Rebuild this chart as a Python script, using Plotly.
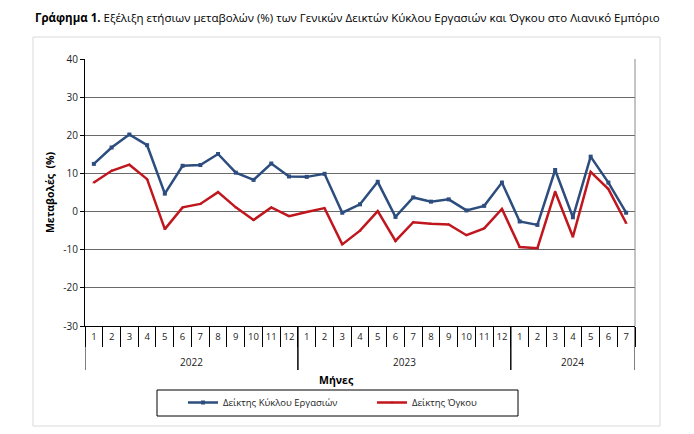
import plotly.graph_objects as go

years = ["2022"] * 12 + ["2023"] * 12 + ["2024"] * 7
months = [str(m) for m in range(1, 13)] * 2 + [str(m) for m in range(1, 8)]

turnover = [12.5, 16.8, 20.2, 17.4, 4.7, 12.0, 12.2, 15.1, 10.2, 8.3, 12.6, 9.2,
            9.1, 9.9, -0.3, 1.9, 7.8, -1.4, 3.7, 2.6, 3.2, 0.3, 1.5, 7.6,
            -2.6, -3.5, 10.9, -1.5, 14.4, 7.6, -0.3]
volume = [7.6, 10.7, 12.3, 8.5, -4.6, 1.1, 2.0, 5.1, 1.1, -2.2, 1.1, -1.2,
          -0.1, 0.9, -8.6, -5.0, 0.1, -7.7, -2.8, -3.2, -3.4, -6.2, -4.4, 0.7,
          -9.3, -9.6, 5.2, -6.6, 10.4, 5.9, -3.0]

series_names = ["Δείκτης Κύκλου Εργασιών", "Δείκτης Όγκου"]
y_ticks = [-30, -20, -10, 0, 10, 20, 30, 40]
y_ticktext = [str(v) for v in y_ticks]

cats = [f"{y}-{m}" for y, m in zip(years, months)]

FONT = "Open Sans"
BLUE = "#2C4D7D"
RED = "#C0161E"

# the page body adds an 8px offset; the figure is sized to fill the rest
OFF = 8
W, H = 694 - OFF, 434 - OFF
L, T = 85 - OFF, 59 - OFF
R = W - (635 - OFF)
B = H - (326 - OFF)
PW, PH = W - L - R, H - T - B


def px_x(x):
    return (x - OFF - L) / PW


def px_y(y):
    return (H - B - (y - OFF)) / PH


fig = go.Figure()
fig.add_trace(go.Scatter(
    x=cats, y=turnover, name=series_names[0], mode="lines+markers",
    line=dict(color=BLUE, width=2.5), marker=dict(symbol="square", size=4, color=BLUE)))
fig.add_trace(go.Scatter(
    x=cats, y=volume, name=series_names[1], mode="lines+markers",
    line=dict(color=RED, width=2.5), marker=dict(symbol="triangle-up", size=3, color=RED)))

# year groups: dividers at group edges and labels centred under each group
year_order = list(dict.fromkeys(years))
shapes = []
annotations = []
for yr in year_order:
    idx = [i for i, v in enumerate(years) if v == yr]
    lo, hi = idx[0] - 0.5, idx[-1] + 0.5
    for xb in (lo, hi):
        shapes.append(dict(type="line", xref="x", yref="paper", x0=xb, x1=xb,
                           y0=0, y1=px_y(370), line=dict(color="#000", width=1)))
    annotations.append(dict(text=yr, xref="x", yref="paper", x=(lo + hi) / 2, y=px_y(362),
                            xanchor="center", yanchor="middle", showarrow=False,
                            font=dict(family=FONT, size=10, color="#222")))

annotations.append(dict(text="<b>Μήνες</b>", xref="paper", yref="paper", x=px_x(336), y=px_y(380),
                        xanchor="center", yanchor="middle", showarrow=False,
                        font=dict(family=FONT, size=10.5, color="#000")))

shapes += [
    dict(type="line", xref="paper", yref="paper", x0=1, x1=1, y0=0, y1=1,
         line=dict(color="#8a8a8a", width=1)),
    dict(type="rect", xref="paper", yref="paper",
         x0=px_x(33), x1=px_x(660), y0=px_y(426), y1=px_y(37),
         line=dict(color="#d9d9d9", width=1), layer="below"),
    dict(type="rect", xref="paper", yref="paper",
         x0=px_x(157), x1=px_x(518), y0=px_y(416), y1=px_y(390),
         line=dict(color="#000", width=1), layer="below"),
]

fig.update_layout(
    width=W, height=H,
    margin=dict(l=L, r=R, t=T, b=B, autoexpand=False),
    paper_bgcolor="white", plot_bgcolor="white",
    font=dict(family=FONT, size=10, color="#222"),
    title=dict(
        text="<b>Γράφημα 1.</b> Εξέλιξη ετήσιων μεταβολών (%) των Γενικών Δεικτών Κύκλου Εργασιών και Όγκου στο Λιανικό Εμπόριο",
        x=(35 - OFF) / W, xanchor="left", y=1 - (18 - OFF) / H, yanchor="middle",
        font=dict(family=FONT, size=11.5, color="#000")),
    showlegend=True,
    legend=dict(
        orientation="h", x=px_x(183), xanchor="left", y=px_y(388), yanchor="top",
        borderwidth=0, bgcolor="rgba(0,0,0,0)",
        entrywidth=144, entrywidthmode="pixels",
        font=dict(family=FONT, size=9.5, color="#222")),
    xaxis=dict(
        type="category", range=[-0.5, len(cats) - 0.5], automargin=False,
        tickvals=cats, ticktext=months,
        showline=True, linecolor="#000", linewidth=1, mirror=False,
        ticks="outside", tickson="boundaries", ticklen=20, tickcolor="#000",
        tickangle=0, ticklabelstandoff=2,
        showgrid=False, tickfont=dict(family=FONT, size=9.5, color="#222")),
    yaxis=dict(
        range=[-30, 40], tickvals=y_ticks, ticktext=y_ticktext, automargin=False,
        showgrid=True, gridcolor="#6a6a6a", gridwidth=1,
        zeroline=False, showline=True, linecolor="#000", linewidth=1,
        ticks="outside", ticklen=4, tickcolor="#000",
        tickfont=dict(family=FONT, size=10, color="#222"),
        title=dict(text="<b>Μεταβολές  (%)</b>", font=dict(family=FONT, size=10.5, color="#000"), standoff=6)),
    shapes=shapes,
    annotations=annotations,
)

fig.write_html("out.html")
